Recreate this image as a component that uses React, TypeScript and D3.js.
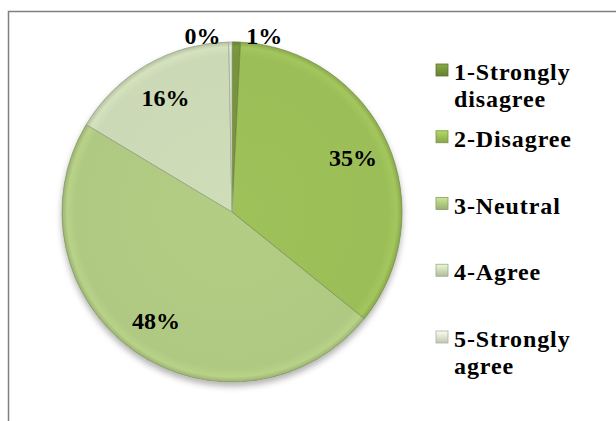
import React from "react";
import * as d3 from "d3";

const categories = ["1-Strongly disagree", "2-Disagree", "3-Neutral", "4-Agree", "5-Strongly agree"];
const legendLines = [["1-Strongly", "disagree"], ["2-Disagree"], ["3-Neutral"], ["4-Agree"], ["5-Strongly", "agree"]];
const values = [0.8, 35.0, 47.8, 16.1, 0.3];
const labels = ["1%", "35%", "48%", "16%", "0%"];
const colors = ["#77933C", "#9CBE58", "#B0C982", "#CCD9B6", "#DCE5CE"];

const W = 616, H = 421;
const cx = 232, cy = 212, R = 170;
const textStyle: React.CSSProperties = { fontFamily: '"Liberation Serif", "Times New Roman", Times, serif', fontWeight: 700, fontSize: "24px" };

export default function App() {
  const pie = d3.pie<number>().sort(null).value((d) => d)(values);
  const arc = d3.arc<d3.PieArcDatum<number>>().innerRadius(0).outerRadius(R);
  const labelArc = d3.arc<d3.PieArcDatum<number>>().innerRadius(R * 0.78).outerRadius(R * 0.78);
  const legendY = d3.scaleLinear().domain([0, 4]).range([80, 347]);

  return (
    <svg width={W} height={H} style={{ position: "absolute", left: 0, top: 0 }}>
      <defs>
        <filter id="shadow" x="-20%" y="-20%" width="140%" height="140%">
          <feDropShadow dx="0" dy="4" stdDeviation="3" floodColor="#000" floodOpacity="0.3" />
        </filter>
        {colors.map((c, i) => (
          <radialGradient key={i} id={`g${i}`} cx={0} cy={0} r={R} gradientUnits="userSpaceOnUse">
            <stop offset="0%" stopColor={d3.color(c)!.brighter(0.05).formatHex()} />
            <stop offset="92%" stopColor={c} />
            <stop offset="97%" stopColor={d3.color(c)!.brighter(0.12).formatHex()} />
            <stop offset="100%" stopColor={d3.color(c)!.darker(0.35).formatHex()} />
          </radialGradient>
        ))}
        {colors.map((c, i) => (
          <linearGradient key={i} id={`l${i}`} x1="0" y1="0" x2="0" y2="1">
            <stop offset="0%" stopColor={d3.color(c)!.brighter(0.4).formatHex()} />
            <stop offset="100%" stopColor={d3.color(c)!.darker(0.4).formatHex()} />
          </linearGradient>
        ))}
      </defs>
      <rect x={8.5} y={11.5} width={W} height={H} fill="#fff" stroke="#808080" strokeWidth={1.5} />
      <g transform={`translate(${cx},${cy})`} filter="url(#shadow)">
        {pie.map((d, i) => (
          <path key={i} d={arc(d)!} fill={`url(#g${i})`} stroke={d3.color(colors[i])!.darker(0.8).formatHex()} strokeWidth={0.8} />
        ))}
      </g>
      <g transform={`translate(${cx},${cy})`}>
        {pie.map((d, i) => {
          const pct = d.endAngle - d.startAngle;
          if (pct < 0.1) {
            const a = (d.startAngle + d.endAngle) / 2;
            const side = Math.sin(a) >= 0 ? 1 : -1;
            const x = R * Math.sin(a) + side * 10;
            const y = -R * Math.cos(a) + 2;
            return (
              <text key={i} x={x} y={y} textAnchor={side > 0 ? "start" : "end"} style={textStyle} fill="#000">
                {labels[i]}
              </text>
            );
          }
          const [x, y] = labelArc.centroid(d);
          return (
            <text key={i} x={x} y={y} dy="0.35em" textAnchor="middle" style={textStyle} fill="#000">
              {labels[i]}
            </text>
          );
        })}
      </g>
      <g>
        {categories.map((c, i) => (
          <g key={c} transform={`translate(436,${legendY(i)})`}>
            <rect x={0} y={-16} width={12} height={12} fill={`url(#l${i})`} stroke={d3.color(colors[i])!.darker(0.7).formatHex()} strokeWidth={0.8} />
            {legendLines[i].map((t, j) => (
              <text key={j} x={18} y={j * 27} style={{ ...textStyle, letterSpacing: "0.9px" }} fill="#000">
                {t}
              </text>
            ))}
          </g>
        ))}
      </g>
    </svg>
  );
}
